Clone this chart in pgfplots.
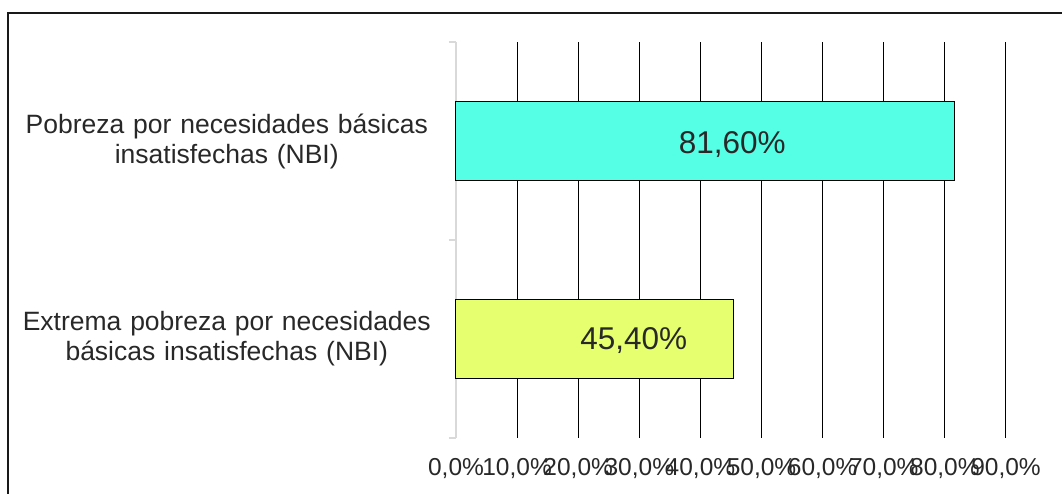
\documentclass[border=0pt]{standalone}
\usepackage{fontspec}
\setmainfont{Liberation Sans}
\usepackage{pgfplots}
\pgfplotsset{compat=1.18}
\definecolor{barcyan}{RGB}{85,255,230}
\definecolor{baryellow}{RGB}{229,255,110}
\definecolor{txt}{RGB}{40,40,40}
\begin{document}
\begin{tikzpicture}
\useasboundingbox (-456pt,-56pt) rectangle (606pt,438pt);
\draw[line width=2.5pt, black!90] (-448pt,-70pt) -- (-448pt,425pt) -- (620pt,425pt);
\begin{axis}[
  at={(0pt,0pt)}, anchor=south west,
  scale only axis, width=550pt, height=396pt,
  xmin=0, xmax=90, ymin=-0.5, ymax=1.5,
  xbar, bar width=79pt,
  axis y line*=left, axis x line*=bottom,
  x axis line style={draw=none},
  y axis line style={draw=black!15, line width=2pt},
  xtick={0,10,...,90},
  xticklabels={{0,0\%},{10,0\%},{20,0\%},{30,0\%},{40,0\%},{50,0\%},{60,0\%},{70,0\%},{80,0\%},{90,0\%}},
  xticklabel style={font=\fontsize{24.5}{28}\selectfont, text=txt, inner sep=0pt, yshift=-20pt},
  ytick={0,1},
  yticklabels={{Extrema pobreza por necesidades\\básicas insatisfechas (NBI)},{Pobreza por necesidades básicas\\insatisfechas (NBI)}},
  yticklabel style={font=\fontsize{26.5}{30}\selectfont, text=txt, text width=430pt, align=center, inner sep=0pt, xshift=-14pt},
  minor ytick={-0.5,0.5,1.5},
  major tick length=0pt, minor tick length=7pt, tick align=outside,
  ytick style={draw=black!15, line width=1.5pt},
  xmajorgrids, grid style={black, line width=1pt},
  clip=false,
]
\addplot[xbar, bar shift=0pt, fill=barcyan, draw=black, line width=1pt] coordinates {(81.6,1)};
\addplot[xbar, bar shift=0pt, fill=baryellow, draw=black, line width=1pt] coordinates {(45.4,0)};
\node[font=\fontsize{31.5}{36}\selectfont, text=txt] at (axis cs:45.2,0.98) {81,60\%};
\node[font=\fontsize{31.5}{36}\selectfont, text=txt] at (axis cs:29.1,-0.01) {45,40\%};
\end{axis}
\end{tikzpicture}
\end{document}
